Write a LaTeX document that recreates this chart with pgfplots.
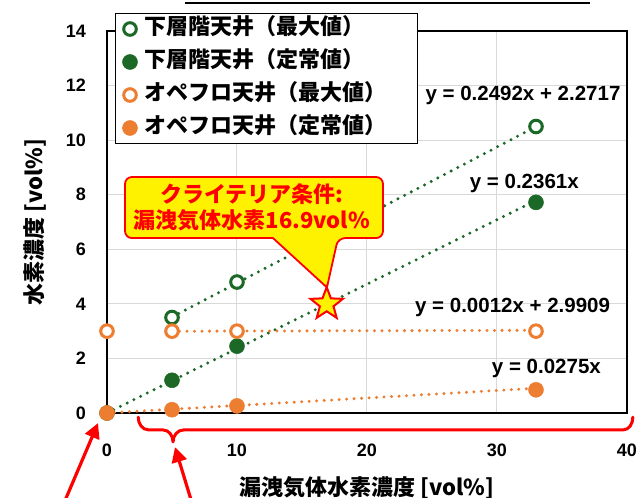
\documentclass[border=0pt]{standalone}
\usepackage{pgfplots}
\pgfplotsset{compat=1.18}
\usetikzlibrary{arrows.meta}
\usepackage{fontspec}
\setmainfont{Liberation Sans}
\newfontfamily\jp{Noto Sans CJK JP}
\definecolor{dg}{RGB}{28,104,38}
\definecolor{og}{RGB}{237,125,49}
\definecolor{gridc}{RGB}{217,217,217}
\pgfdeclareplotmark{fstar}{%
  \pgfpathmoveto{\pgfpointpolar{90}{\pgfplotmarksize}}%
  \pgfpathlineto{\pgfpointpolar{126}{0.42\pgfplotmarksize}}%
  \pgfpathlineto{\pgfpointpolar{162}{\pgfplotmarksize}}%
  \pgfpathlineto{\pgfpointpolar{198}{0.42\pgfplotmarksize}}%
  \pgfpathlineto{\pgfpointpolar{234}{\pgfplotmarksize}}%
  \pgfpathlineto{\pgfpointpolar{270}{0.42\pgfplotmarksize}}%
  \pgfpathlineto{\pgfpointpolar{306}{\pgfplotmarksize}}%
  \pgfpathlineto{\pgfpointpolar{342}{0.42\pgfplotmarksize}}%
  \pgfpathlineto{\pgfpointpolar{18}{\pgfplotmarksize}}%
  \pgfpathlineto{\pgfpointpolar{54}{0.42\pgfplotmarksize}}%
  \pgfpathclose
  \pgfusepathqfillstroke}
\begin{document}
\begin{tikzpicture}
\path[use as bounding box] (-107pt,-85pt) rectangle (536pt,413pt);
\begin{axis}[
  scale only axis, width=520pt, height=382pt,
  xmin=0, xmax=40, ymin=0, ymax=14,
  xtick={0,10,20,30,40}, ytick={0,2,4,6,8,10,12,14},
  grid=major, grid style={gridc, line width=1pt},
  axis line style={black, line width=1.4pt},
  major tick length=0pt,
  tick label style={font=\fontsize{18}{18}\selectfont\bfseries, inner sep=0pt},
  /pgf/number format/assume math mode=true,
  xticklabel style={anchor=north, yshift=-31pt},
  yticklabel style={anchor=east, xshift=-21pt},
  xlabel={漏洩気体水素濃度 [vol\%]},
  ylabel={水素濃度 [vol\%]},
  every axis x label/.style={at={(rel axis cs:0.5,0)}, anchor=center, yshift=-75pt, font=\jp\bfseries\fontsize{22}{22}\selectfont},
  every axis y label/.style={at={(rel axis cs:0,0.5)}, anchor=center, xshift=-72pt, rotate=90, font=\jp\bfseries\fontsize{22}{22}\selectfont},
  clip=false,
  legend cell align=left,
  legend style={at={(rel axis cs:0,1)}, anchor=north west, xshift=8pt, yshift=18pt,
    draw=black, line width=1pt, fill=white, inner xsep=7pt, inner ysep=5pt, row sep=12pt,
    font=\jp\bfseries\fontsize{22}{22}\selectfont,
    nodes={inner sep=0pt, text height=16pt, text depth=5pt},
    /tikz/every odd column/.style={column sep=7pt}},
  legend image code/.code={\draw[#1] plot coordinates {(0pt,0pt)};},
]
% data series
\addplot[only marks, mark=*, mark size=6.3pt, mark options={draw=dg, fill=white, line width=3pt}]
  coordinates {(5,3.5) (10,4.8) (33,10.5)};
\addlegendentry{\makebox[266pt][l]{下層階天井（最大値）}}
\addplot[only marks, mark=*, mark size=7.5pt, mark options={draw=dg, fill=dg, line width=0.5pt}]
  coordinates {(0,0) (5,1.2) (10,2.45) (33,7.72)};
\addlegendentry{\makebox[266pt][l]{下層階天井（定常値）}}
\addplot[only marks, mark=*, mark size=6.3pt, mark options={draw=og, fill=white, line width=3pt}]
  coordinates {(0,3.0) (5,3.0) (10,3.0) (33,3.0)};
\addlegendentry{\makebox[266pt][l]{オペフロ天井（最大値）}}
\addplot[only marks, mark=*, mark size=7.5pt, mark options={draw=og, fill=og, line width=0.5pt}]
  coordinates {(0,0) (5,0.12) (10,0.26) (33,0.85)};
\addlegendentry{\makebox[266pt][l]{オペフロ天井（定常値）}}
% trendlines
\addplot[dg, line width=3.3pt, line cap=round, dash pattern=on 0pt off 7.5pt, forget plot]
  coordinates {(5,3.5177) (33,10.4953)};
\addplot[dg, line width=3.3pt, line cap=round, dash pattern=on 0pt off 7.5pt, forget plot]
  coordinates {(0,0) (33,7.7913)};
\addplot[og, line width=3.3pt, line cap=round, dash pattern=on 0pt off 7.5pt, forget plot]
  coordinates {(5,2.9969) (33,3.0305)};
\addplot[og, line width=3.3pt, line cap=round, dash pattern=on 0pt off 7.5pt, forget plot]
  coordinates {(0,0) (33,0.9075)};
% criterion star
\addplot[only marks, mark=fstar, mark size=17pt, mark options={draw=red, fill=yellow, line width=2pt}, forget plot]
  coordinates {(16.9,3.99)};
% callout
\draw[red, line width=1.8pt, fill=yellow, rounded corners=7pt]
  (axis cs:1.385,6.41) -- (axis cs:1.385,8.65) -- (axis cs:21.23,8.65) -- (axis cs:21.23,6.41)
  -- (axis cs:17.77,6.41) [sharp corners] -- (axis cs:16.92,4.6) -- (axis cs:12.77,6.41)
  [rounded corners=7pt] -- cycle;
\node[align=center, text=red, font=\jp\bfseries\fontsize{22}{26}\selectfont] at (axis cs:11.15,7.55)
  {クライテリア条件:\\漏洩気体水素16.9vol\%};
% trendline equations
\node[font=\fontsize{20.5}{20.5}\selectfont\bfseries] at (axis cs:32.0,11.65) {y = 0.2492x + 2.2717};
\node[font=\fontsize{20.5}{20.5}\selectfont\bfseries] at (axis cs:32.1,8.43) {y = 0.2361x};
\node[font=\fontsize{20.5}{20.5}\selectfont\bfseries] at (axis cs:31.2,3.85) {y = 0.0012x + 2.9909};
\node[font=\fontsize{20.5}{20.5}\selectfont\bfseries] at (axis cs:33.8,1.65) {y = 0.0275x};
% brace
\draw[red, line width=3pt, line cap=round, line join=round]
  (axis cs:2.4,-0.15) to[out=-90,in=180] (axis cs:3.2,-0.62) -- (axis cs:4.3,-0.62)
  to[out=0,in=90] (axis cs:5.08,-1.06) to[out=90,in=180] (axis cs:5.9,-0.62)
  -- (axis cs:39.7,-0.62) to[out=0,in=-90] (axis cs:40.45,-0.15);
% arrows
\draw[red, line width=3.2pt, -{Triangle[length=15pt,width=15pt]}] (axis cs:-3.31,-3.3) -- (axis cs:-0.69,-0.37);
\draw[red, line width=3.2pt, -{Triangle[length=15pt,width=15pt]}] (axis cs:6.54,-3.3) -- (axis cs:5.23,-1.25);
% cropped title underline
\draw[black, line width=2pt] (axis cs:6,15.03) -- (axis cs:37.15,15.03);
\end{axis}
\end{tikzpicture}
\end{document}
